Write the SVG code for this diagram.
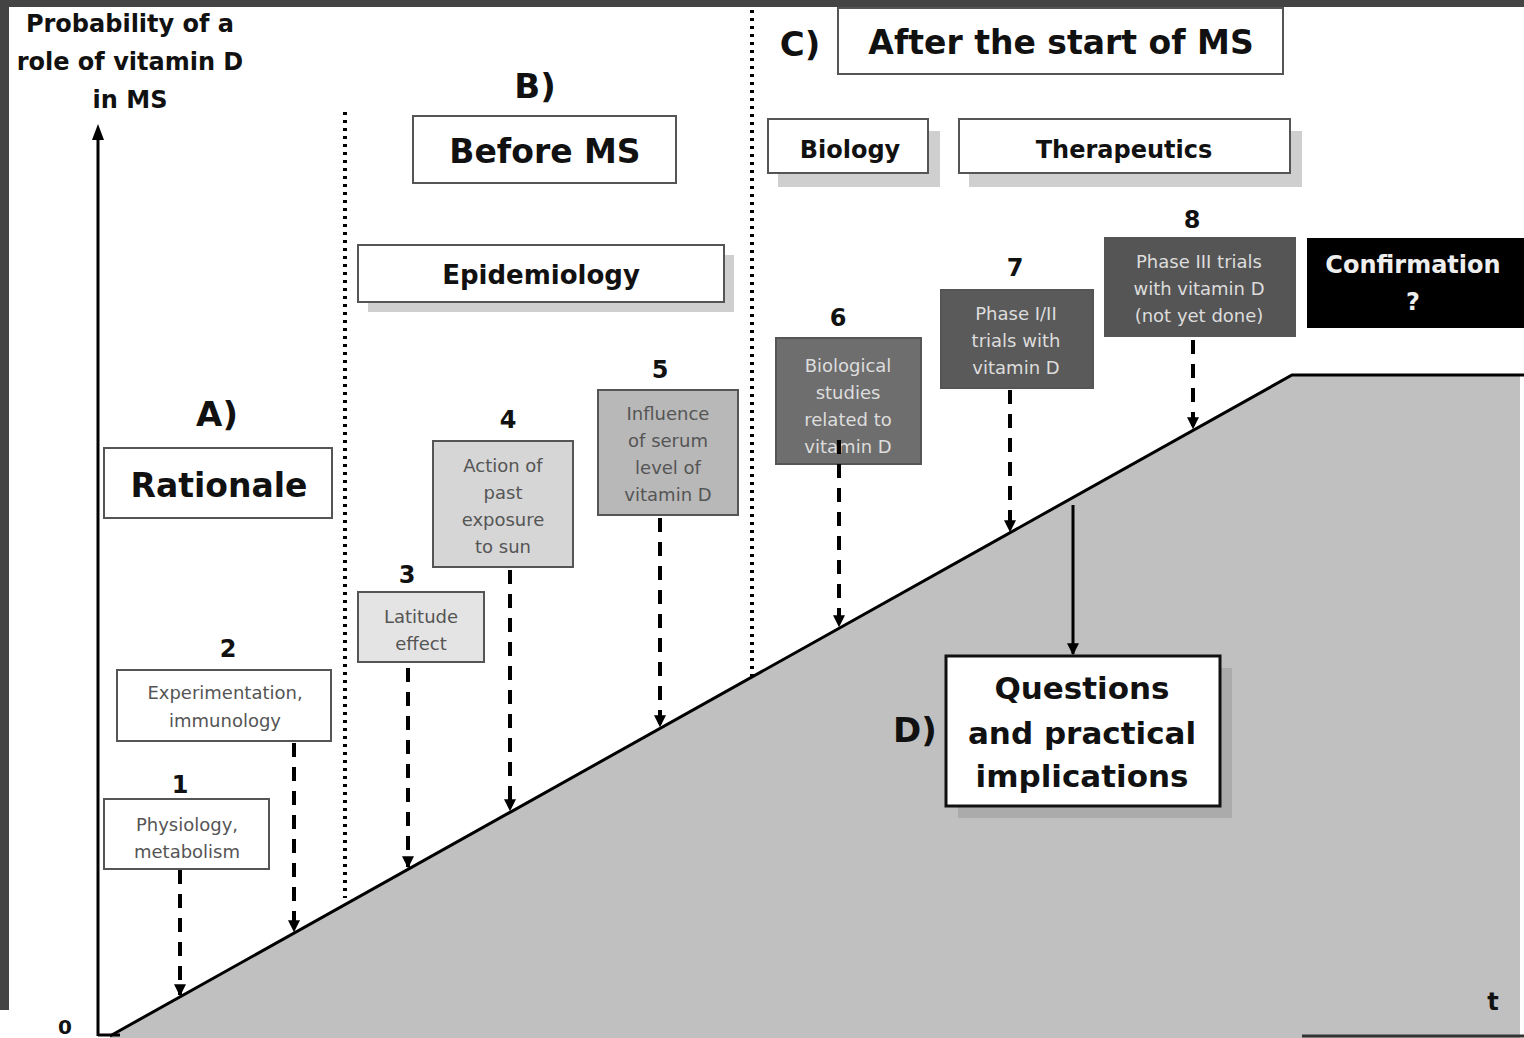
<svg xmlns="http://www.w3.org/2000/svg" width="1524" height="1038" viewBox="0 0 1524 1038">
<defs>
<marker id="ah" viewBox="0 0 10 10" refX="9" refY="5" markerWidth="3" markerHeight="3" orient="auto" markerUnits="strokeWidth">
<path d="M0,0 L10,5 L0,10 Z" fill="#000"/>
</marker>
<marker id="ahs" viewBox="0 0 10 10" refX="9" refY="5" markerWidth="4" markerHeight="4" orient="auto" markerUnits="strokeWidth">
<path d="M0,0 L10,5 L0,10 Z" fill="#000"/>
</marker>
</defs>
<style>
.b{font-family:"DejaVu Sans",Verdana,sans-serif;font-weight:bold;text-anchor:middle;fill:#111}
.s{font-family:"DejaVu Sans",Verdana,sans-serif;text-anchor:middle;font-size:18px;fill:#555}
.w{fill:#ddd}
.box{stroke:#555;stroke-width:2}
.sh{fill:#cfcfcf}
.dash{stroke:#000;stroke-width:4;stroke-dasharray:14 10;fill:none}
.dot{stroke:#000;stroke-width:4;stroke-dasharray:3 5;fill:none}
</style>
<rect width="1524" height="1038" fill="#fff"/>
<rect x="0" y="0" width="1524" height="7" fill="#444"/>
<rect x="0" y="0" width="9" height="1010" fill="#444"/>
<polygon points="110,1036 1292,375 1520,375 1520,1038 110,1038" fill="#c0c0c0"/>
<g id="axes" fill="none" stroke="#000">
<line x1="98" y1="1036" x2="98" y2="138" stroke-width="3"/>
<path d="M98,124 L92,140 L104,140 Z" fill="#000" stroke="none"/>
<line x1="98" y1="1035" x2="120" y2="1035" stroke-width="3"/>
<polyline points="110,1036 1292,375 1524,375" stroke-width="3"/>
<line x1="1302" y1="1036" x2="1524" y2="1036" stroke-width="3" stroke="#333"/>
</g>
<text class="b" x="130" y="32" font-size="24">Probability of a</text>
<text class="b" x="130" y="70" font-size="24">role of vitamin D</text>
<text class="b" x="130" y="108" font-size="24">in MS</text>
<text class="b" x="65" y="1034" font-size="20">0</text>
<text class="b" x="1493" y="1010" font-size="24">t</text>
<line class="dot" x1="345" y1="112" x2="345" y2="898"/>
<line class="dot" x1="752" y1="10" x2="752" y2="680"/>
<g id="A">
<text class="b" x="217" y="426" font-size="34">A)</text>
<rect class="box" x="104" y="448" width="228" height="70" fill="#fff"/>
<text class="b" x="219" y="497" font-size="33">Rationale</text>
</g>
<g id="B">
<text class="b" x="535" y="98" font-size="34">B)</text>
<rect class="box" x="413" y="116" width="263" height="67" fill="#fff"/>
<text class="b" x="545" y="163" font-size="33">Before MS</text>
</g>
<g id="epi">
<rect class="sh" x="368" y="255" width="366" height="57"/>
<rect class="box" x="358" y="245" width="366" height="57" fill="#fff"/>
<text class="b" x="541" y="284" font-size="26">Epidemiology</text>
</g>
<g id="C">
<text class="b" x="800" y="56" font-size="34">C)</text>
<rect class="box" x="838" y="8" width="445" height="66" fill="#fff"/>
<text class="b" x="1061" y="54" font-size="33">After the start of MS</text>
</g>
<g id="bio">
<rect class="sh" x="778" y="131" width="162" height="56"/>
<rect class="box" x="768" y="119" width="160" height="54" fill="#fff"/>
<text class="b" x="850" y="158" font-size="24">Biology</text>
</g>
<g id="ther">
<rect class="sh" x="969" y="131" width="333" height="56"/>
<rect class="box" x="959" y="119" width="331" height="54" fill="#fff"/>
<text class="b" x="1124" y="158" font-size="24">Therapeutics</text>
</g>
<g id="n1">
<text class="b" x="180" y="793" font-size="24">1</text>
<rect class="box" x="104" y="799" width="165" height="70" fill="#fff"/>
<text class="s" x="187" y="831">Physiology,</text>
<text class="s" x="187" y="858">metabolism</text>
</g>
<g id="n2">
<text class="b" x="228" y="657" font-size="24">2</text>
<rect class="box" x="117" y="670" width="214" height="71" fill="#fff"/>
<text class="s" x="225" y="699">Experimentation,</text>
<text class="s" x="225" y="727">immunology</text>
</g>
<g id="n3">
<text class="b" x="407" y="583" font-size="24">3</text>
<rect class="box" x="358" y="592" width="126" height="70" fill="#e4e4e4"/>
<text class="s" x="421" y="623">Latitude</text>
<text class="s" x="421" y="650">effect</text>
</g>
<g id="n4">
<text class="b" x="508" y="428" font-size="24">4</text>
<rect class="box" x="433" y="441" width="140" height="126" fill="#d6d6d6"/>
<text class="s" x="503" y="472">Action of</text>
<text class="s" x="503" y="499">past</text>
<text class="s" x="503" y="526">exposure</text>
<text class="s" x="503" y="553">to sun</text>
</g>
<g id="n5">
<text class="b" x="660" y="378" font-size="24">5</text>
<rect class="box" x="598" y="390" width="140" height="125" fill="#b8b8b8"/>
<text class="s" x="668" y="420">Influence</text>
<text class="s" x="668" y="447">of serum</text>
<text class="s" x="668" y="474">level of</text>
<text class="s" x="668" y="501">vitamin D</text>
</g>
<g id="n6">
<text class="b" x="838" y="326" font-size="24">6</text>
<rect class="box" x="776" y="338" width="145" height="126" fill="#6e6e6e"/>
<text class="s w" x="848" y="372">Biological</text>
<text class="s w" x="848" y="399">studies</text>
<text class="s w" x="848" y="426">related to</text>
<text class="s w" x="848" y="453">vitamin D</text>
</g>
<g id="n7">
<text class="b" x="1015" y="276" font-size="24">7</text>
<rect class="box" x="941" y="290" width="152" height="98" fill="#5a5a5a"/>
<text class="s w" x="1016" y="320">Phase I/II</text>
<text class="s w" x="1016" y="347">trials with</text>
<text class="s w" x="1016" y="374">vitamin D</text>
</g>
<g id="n8">
<text class="b" x="1192" y="228" font-size="24">8</text>
<rect class="box" x="1105" y="238" width="190" height="98" fill="#555"/>
<text class="s w" x="1199" y="268">Phase III trials</text>
<text class="s w" x="1199" y="295">with vitamin D</text>
<text class="s w" x="1199" y="322">(not yet done)</text>
</g>
<g id="conf">
<rect x="1307" y="238" width="217" height="90" fill="#000"/>
<text class="b" x="1413" y="273" font-size="24" style="fill:#eee">Confirmation</text>
<text class="b" x="1413" y="310" font-size="24" style="fill:#eee">?</text>
</g>
<g id="D">
<text class="b" x="915" y="742" font-size="34">D)</text>
<rect x="958" y="668" width="274" height="150" fill="#9c9c9c" opacity="0.6"/>
<rect x="946" y="656" width="274" height="150" fill="#fff" stroke="#111" stroke-width="3"/>
<text class="b" x="1082" y="699" font-size="31">Questions</text>
<text class="b" x="1082" y="744" font-size="31">and practical</text>
<text class="b" x="1082" y="787" font-size="31">implications</text>
</g>
<g id="connectors">
<line class="dash" x1="180" y1="870" x2="180" y2="995" marker-end="url(#ah)"/>
<line class="dash" x1="294" y1="743" x2="294" y2="931" marker-end="url(#ah)"/>
<line class="dash" x1="408" y1="668" x2="408" y2="867" marker-end="url(#ah)"/>
<line class="dash" x1="510" y1="570" x2="510" y2="810" marker-end="url(#ah)"/>
<line class="dash" x1="660" y1="518" x2="660" y2="726" marker-end="url(#ah)"/>
<line class="dash" x1="839" y1="440" x2="839" y2="626" marker-end="url(#ah)"/>
<line class="dash" x1="1010" y1="390" x2="1010" y2="531" marker-end="url(#ah)"/>
<line class="dash" x1="1193" y1="340" x2="1193" y2="428" marker-end="url(#ah)"/>
<line x1="1073" y1="505" x2="1073" y2="654" stroke="#000" stroke-width="3" marker-end="url(#ahs)"/>
</g>
</svg>
